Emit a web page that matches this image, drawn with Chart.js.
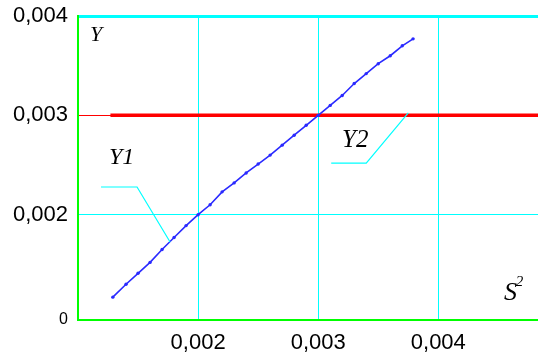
<!DOCTYPE html>
<html>
<head>
<meta charset="utf-8">
<script src="https://cdn.jsdelivr.net/npm/chart.js@4"></script>
<style>
  html, body { margin:0; padding:0; background:#fff; overflow:hidden; }
  #wrap { width:538px; height:363px; overflow:hidden; }
</style>
</head>
<body>
<!-- canvas is a bit wider than the window so the plot runs off the right edge like the original -->
<div id="wrap"><canvas id="chart" width="542" height="363"></canvas></div>
<script>
// S^2 values and the two curves
const y1X = [0.00129, 0.0014, 0.0015, 0.0016, 0.0017, 0.0018, 0.0019, 0.002, 0.0021, 0.0022,
             0.0023, 0.0024, 0.0025, 0.0026, 0.0027, 0.0028, 0.0029, 0.003, 0.0031, 0.0032,
             0.0033, 0.0034, 0.0035, 0.0036, 0.0037, 0.00379];
const y1Y = [0.00117, 0.0013, 0.00141, 0.00152, 0.00165, 0.00177, 0.00189, 0.002, 0.0021, 0.00223,
             0.00232, 0.00242, 0.00251, 0.0026, 0.0027, 0.0028, 0.0029, 0.003, 0.0031, 0.0032,
             0.00332, 0.00342, 0.00352, 0.0036, 0.0037, 0.00377];
const y2X = [0.00127, 0.00483];
const y2Y = [0.003, 0.003];

const xTicks = [0.002, 0.003, 0.004];
const yTicks = [0.002, 0.003, 0.004];
const xMin = 0.001, xMax = 0.00483;
const yMin = 0.00094, yMax = 0.004;

const CYAN = '#00ffff', GREEN = '#00ff00', RED = '#ff0000', BLUE = '#2a2aff';

function fmt(v){
  if (Math.abs(v - yMin) < 1e-9) return '0';
  return v.toFixed(3).replace('.', ',');
}
const same = (a, b) => Math.abs(a - b) < 1e-9;

// text labels and leader lines, in data units
const notes = [
  { text:'Y',  x:0.00115,  y:0.00381,  size:22 },
  { text:'Y1', x:0.001363, y:0.002576, size:24 },
  { text:'Y2', x:0.003308, y:0.002747, size:25 },
  { text:'S',  x:0.0046,   y:0.001212, size:26 },
  { text:'2',  x:0.004675, y:0.001322, size:15 }
];
const leaders = [
  [[0.0011917, 0.002279], [0.0014917, 0.002279], [0.0017667, 0.001725]],
  [[0.0031083, 0.00252], [0.0034, 0.00252], [0.00375, 0.003024]]
];

const notesPlugin = {
  id: 'notes',
  afterDatasetsDraw(chart){
    const {ctx, scales:{x, y}} = chart;
    ctx.save();
    ctx.strokeStyle = CYAN;
    ctx.lineWidth = 1.2;
    leaders.forEach(pts => {
      ctx.beginPath();
      pts.forEach((p, i) => {
        const px = x.getPixelForValue(p[0]), py = y.getPixelForValue(p[1]);
        if (i === 0) ctx.moveTo(px, py); else ctx.lineTo(px, py);
      });
      ctx.stroke();
    });
    ctx.fillStyle = '#000';
    ctx.textAlign = 'center';
    ctx.textBaseline = 'middle';
    notes.forEach(n => {
      ctx.font = 'italic ' + n.size + 'px "Liberation Serif", "Times New Roman", serif';
      ctx.fillText(n.text, x.getPixelForValue(n.x), y.getPixelForValue(n.y));
    });
    ctx.restore();
  }
};

new Chart(document.getElementById('chart'), {
  type: 'scatter',
  data: {
    datasets: [
      {
        label: 'Y1',
        data: y1X.map((v, i) => ({ x: v, y: y1Y[i] })),
        showLine: true,
        borderColor: BLUE,
        backgroundColor: BLUE,
        borderWidth: 1.6,
        pointRadius: 1.7,
        pointBorderWidth: 0,
        order: 1
      },
      {
        label: 'Y2',
        data: y2X.map((v, i) => ({ x: v, y: y2Y[i] })),
        showLine: true,
        borderColor: RED,
        backgroundColor: RED,
        borderWidth: 3.5,
        pointRadius: 0,
        order: 2
      }
    ]
  },
  options: {
    responsive: false,
    animation: false,
    devicePixelRatio: 1,
    layout: { padding: { top: 16, right: 0, bottom: 0, left: 0 } },
    plugins: { legend: { display: false }, tooltip: { enabled: false } },
    scales: {
      x: {
        type: 'linear',
        min: xMin, max: xMax,
        afterBuildTicks: s => { s.ticks = xTicks.map(v => ({ value: v })); },
        afterFit: s => { s.height = 43; s.paddingLeft = 0; s.paddingRight = 0; },
        grid: { color: CYAN, lineWidth: 1, drawTicks: false },
        border: { color: GREEN, width: 2 },
        ticks: {
          color: '#000',
          padding: 10,
          maxRotation: 0,
          font: { family: '"Liberation Sans", Arial, sans-serif', size: 22 },
          callback: v => fmt(v)
        }
      },
      y: {
        type: 'linear',
        min: yMin, max: yMax,
        afterBuildTicks: s => { s.ticks = [yMin].concat(yTicks).map(v => ({ value: v })); },
        afterFit: s => { s.width = 78; s.paddingTop = 0; s.paddingBottom = 0; },
        grid: {
          drawTicks: false,
          color: c => (c.tick && same(c.tick.value, 0.003)) ? RED : CYAN,
          lineWidth: c => (c.tick && same(c.tick.value, yMax)) ? 3 : 1
        },
        border: { color: GREEN, width: 2 },
        ticks: {
          color: '#000',
          padding: 10,
          font: c => ({
            family: '"Liberation Sans", Arial, sans-serif',
            size: (c.tick && same(c.tick.value, yMin)) ? 16 : 22
          }),
          callback: v => fmt(v)
        }
      }
    }
  },
  plugins: [notesPlugin]
});
</script>
</body>
</html>
